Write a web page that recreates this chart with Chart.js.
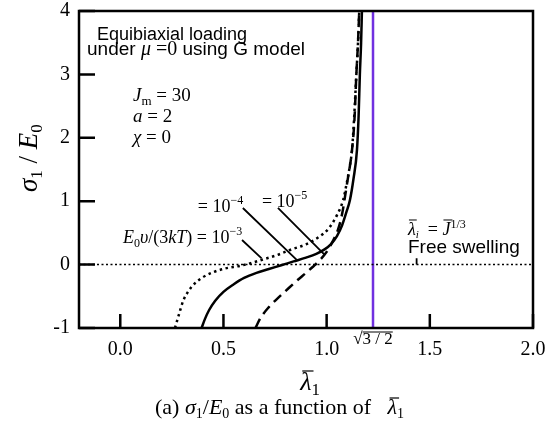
<!DOCTYPE html>
<html>
<head>
<meta charset="utf-8">
<script src="https://cdn.jsdelivr.net/npm/chart.js"></script>
<style>
  html, body { margin: 0; padding: 0; background: #fff; }
  #wrap { width: 559px; height: 445px; }
</style>
</head>
<body>
<div id="wrap"><canvas id="c" width="559" height="445"></canvas></div>
<script>
// axis ranges and ticks
const xRange = [-0.2, 2.0];
const yRange = [-1, 4];
const xTicks = [0, 0.5, 1.0, 1.5, 2.0];
const yTicks = [-1, 0, 1, 2, 3, 4];

// E0 v/(3kT) = 1e-3  (dotted)
const lam3 = [0.265, 0.285, 0.305, 0.33, 0.36, 0.40, 0.45, 0.51, 0.58, 0.64, 0.70, 0.76, 0.83, 0.90, 0.96, 1.01, 1.05, 1.08, 1.097, 1.112, 1.123, 1.133, 1.144, 1.152, 1.158];
const sig3 = [-1.0, -0.78, -0.57, -0.42, -0.30, -0.20, -0.12, -0.06, -0.02, 0.03, 0.09, 0.15, 0.24, 0.32, 0.43, 0.57, 0.78, 1.02, 1.28, 1.55, 1.81, 2.3, 3.0, 3.5, 4.0];

// 1e-4  (solid)
const lam4 = [0.394, 0.41, 0.43, 0.46, 0.50, 0.55, 0.60, 0.66, 0.72, 0.78, 0.84, 0.90, 0.95, 0.99, 1.02, 1.05, 1.075, 1.095, 1.113, 1.13, 1.147, 1.155, 1.161, 1.167, 1.171];
const sig4 = [-1.0, -0.86, -0.72, -0.57, -0.43, -0.31, -0.21, -0.13, -0.07, -0.01, 0.05, 0.11, 0.17, 0.24, 0.32, 0.45, 0.62, 0.82, 1.02, 1.35, 1.81, 2.35, 3.0, 3.5, 4.0];

// 1e-5  (dashed)
const lam5 = [0.655, 0.68, 0.72, 0.76, 0.80, 0.85, 0.90, 0.935, 0.97, 1.00, 1.03, 1.055, 1.075, 1.088, 1.10, 1.123, 1.135, 1.144, 1.152, 1.158];
const sig5 = [-1.0, -0.84, -0.67, -0.54, -0.42, -0.27, -0.13, -0.03, 0.08, 0.2, 0.37, 0.55, 0.8, 1.05, 1.3, 1.81, 2.3, 3.0, 3.5, 4.0];

// free swelling stretch sqrt(3/2)
const lamLimit = 1.2247;

// leader lines (lambda, sigma) -> (lambda, sigma)
const leaders = [
  [0.764, 0.893, 0.992, 0.151],
  [0.594, 0.893, 0.855, 0.073],
  [0.590, 0.388, 0.685, 0.099]
];

const SERIF = "'Liberation Serif', 'Times New Roman', serif";
const SANS = "'Liberation Sans', Arial, sans-serif";

const pts = (xs, ys) => xs.map((x, i) => ({ x: x, y: ys[i] }));

// draws a row of text pieces [text, font, dy]; returns x of each piece and its width
function textRow(ctx, x, y, parts, align) {
  let w = 0;
  parts.forEach(p => { ctx.font = p[1]; w += ctx.measureText(p[0]).width; });
  let cx = align === 'center' ? x - w / 2 : x;
  ctx.textAlign = 'left';
  ctx.textBaseline = 'alphabetic';
  const out = [];
  parts.forEach(p => {
    ctx.font = p[1];
    const pw = ctx.measureText(p[0]).width;
    ctx.fillText(p[0], cx, y + (p[2] || 0));
    out.push([cx, pw]);
    cx += pw;
  });
  return out;
}

function bar(ctx, x0, x1, y) {
  ctx.beginPath();
  ctx.moveTo(x0, y);
  ctx.lineTo(x1, y);
  ctx.stroke();
}

const decor = {
  id: 'decor',
  afterDraw(chart) {
    const { ctx, chartArea: a, scales: { x, y } } = chart;
    const X = v => x.getPixelForValue(v);
    const Y = v => y.getPixelForValue(v);
    ctx.save();
    ctx.strokeStyle = '#000';
    ctx.fillStyle = '#000';

    // frame
    ctx.lineWidth = 2.5;
    ctx.strokeRect(a.left, a.top, a.right - a.left, a.bottom - a.top);

    // inner ticks
    ctx.beginPath();
    xTicks.forEach(v => { ctx.moveTo(X(v), a.bottom); ctx.lineTo(X(v), a.bottom - 14); });
    yTicks.forEach(v => { ctx.moveTo(a.left, Y(v)); ctx.lineTo(a.left + 16, Y(v)); });
    ctx.stroke();

    // leader lines
    ctx.lineWidth = 1.8;
    ctx.beginPath();
    leaders.forEach(l => { ctx.moveTo(X(l[0]), Y(l[1])); ctx.lineTo(X(l[2]), Y(l[3])); });
    ctx.moveTo(X(1.436), Y(0));
    ctx.lineTo(X(1.436), Y(0.1));
    ctx.stroke();

    ctx.lineWidth = 1;

    // header text
    textRow(ctx, X(-0.113), Y(3.543), [['Equibiaxial loading', '18px ' + SANS]]);
    textRow(ctx, X(-0.161), Y(3.306), [
      ['under ', '19px ' + SANS], ['\u03BC', 'italic 20px ' + SERIF], [' =0', '20px ' + SERIF],
      [' using G model', '19px ' + SANS]
    ]);

    // parameters
    textRow(ctx, X(0.0615), Y(2.58), [['J', 'italic 19px ' + SERIF], ['m', '13px ' + SERIF, 4], [' = 30', '19px ' + SERIF]]);
    textRow(ctx, X(0.0615), Y(2.249), [['a', 'italic 19px ' + SERIF], [' = 2', '19px ' + SERIF]]);
    textRow(ctx, X(0.0615), Y(1.918), [['\u03C7', 'italic 19px ' + SERIF], [' = 0', '19px ' + SERIF]]);

    // curve labels
    textRow(ctx, X(0.376), Y(0.83), [['= 10', '18px ' + SERIF], ['\u22124', '12px ' + SERIF, -8]]);
    textRow(ctx, X(0.6865), Y(0.909), [['= 10', '18px ' + SERIF], ['\u22125', '12px ' + SERIF, -8]]);
    textRow(ctx, X(0.0136), Y(0.341), [
      ['E', 'italic 18px ' + SERIF], ['0', '12px ' + SERIF, 4], ['\u03C5', 'italic 18px ' + SERIF],
      ['/(3', '18px ' + SERIF], ['kT', 'italic 18px ' + SERIF], [') = 10', '18px ' + SERIF],
      ['\u22123', '12px ' + SERIF, -8]
    ]);

    // free swelling
    let r = textRow(ctx, X(1.394), Y(0.467), [
      ['\u03BB', 'italic 18px ' + SERIF], ['i', 'italic 11px ' + SERIF, 3], ['  = ', '18px ' + SERIF],
      ['J', 'italic 18px ' + SERIF], ['1/3', '12px ' + SERIF, -7]
    ]);
    const yb = Y(0.467);
    bar(ctx, r[0][0] + 1, r[0][0] + r[0][1] + 1, yb - 15);
    bar(ctx, r[3][0] + 1, r[3][0] + r[3][1] + 2, yb - 15);
    textRow(ctx, X(1.394), Y(0.183), [['Free swelling', '19px ' + SANS]]);

    // sqrt(3/2) tick label
    const sx = X(lamLimit);
    r = textRow(ctx, sx, a.bottom + 16, [['\u221A', '17px ' + SERIF], ['3 / 2', '17px ' + SERIF]], 'center');
    bar(ctx, r[1][0], r[1][0] + r[1][1], a.bottom + 4);

    // x title
    r = textRow(ctx, X(0.92), 390, [['\u03BB', 'italic 26px ' + SERIF], ['1', '17px ' + SERIF, 5]], 'center');
    ctx.lineWidth = 1.2;
    bar(ctx, r[0][0] + 2, r[0][0] + r[0][1] + 2, 371);

    // y title
    ctx.save();
    ctx.translate(37, Y(1.68));
    ctx.rotate(-Math.PI / 2);
    textRow(ctx, 0, 0, [
      ['\u03C3', 'italic 27px ' + SERIF], ['1', '17px ' + SERIF, 5], [' / ', '27px ' + SERIF],
      ['E', 'italic 27px ' + SERIF], ['0', '17px ' + SERIF, 5]
    ], 'center');
    ctx.restore();

    // caption
    r = textRow(ctx, 155, 414, [
      ['(a) ', '22px ' + SERIF], ['\u03C3', 'italic 22px ' + SERIF], ['1', '14px ' + SERIF, 4],
      ['/', '22px ' + SERIF], ['E', 'italic 22px ' + SERIF], ['0', '14px ' + SERIF, 4],
      [' as a function of   ', '22px ' + SERIF], ['\u03BB', 'italic 22px ' + SERIF], ['1', '14px ' + SERIF, 4]
    ]);
    bar(ctx, r[7][0] + 2, r[7][0] + r[7][1] + 2, 398);

    ctx.restore();
  }
};

const curveBase = { showLine: true, pointRadius: 0, borderColor: '#000', borderWidth: 2.5, cubicInterpolationMode: 'monotone', fill: false };

new Chart(document.getElementById('c'), {
  type: 'scatter',
  data: {
    datasets: [
      Object.assign({ label: '1e-3', data: pts(lam3, sig3), borderDash: [2.5, 3.5] }, curveBase),
      Object.assign({ label: '1e-4', data: pts(lam4, sig4) }, curveBase),
      Object.assign({ label: '1e-5', data: pts(lam5, sig5), borderDash: [10, 6] }, curveBase),
      { label: 'zero', data: pts(xRange, [0, 0]), showLine: true, pointRadius: 0, borderColor: '#000', borderWidth: 1.5, borderDash: [2, 2.5] },
      { label: 'limit', data: pts([lamLimit, lamLimit], yRange), showLine: true, pointRadius: 0, borderColor: '#7030e0', borderWidth: 2.5 }
    ]
  },
  options: {
    responsive: false,
    animation: false,
    devicePixelRatio: 1,
    layout: { padding: { top: 11, right: 26, bottom: 0, left: 0 } },
    plugins: { legend: { display: false }, tooltip: { enabled: false } },
    scales: {
      x: {
        type: 'linear', min: xRange[0], max: xRange[1],
        afterBuildTicks: s => { s.ticks = xTicks.map(v => ({ value: v })); },
        afterFit: s => { s.height = 117; s.paddingLeft = 0; s.paddingRight = 0; },
        grid: { display: false, drawTicks: false },
        border: { display: false },
        ticks: { color: '#000', padding: 10, font: { family: SERIF, size: 20 }, callback: v => v.toFixed(1) }
      },
      y: {
        type: 'linear', min: yRange[0], max: yRange[1],
        afterBuildTicks: s => { s.ticks = yTicks.map(v => ({ value: v })); },
        afterFit: s => { s.width = 79; s.paddingTop = 0; s.paddingBottom = 0; },
        grid: { display: false, drawTicks: false },
        border: { display: false },
        ticks: { color: '#000', padding: 9, font: { family: SERIF, size: 20, lineHeight: 1 }, callback: v => String(v) }
      }
    }
  },
  plugins: [decor]
});
</script>
</body>
</html>
